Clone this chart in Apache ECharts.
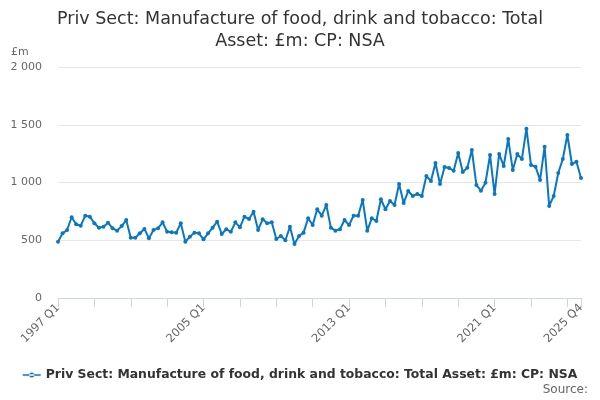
<!DOCTYPE html>
<html>
<head>
<meta charset="utf-8">
<script src="https://cdn.jsdelivr.net/npm/echarts@6/dist/echarts.min.js"></script>
<style>
  html, body { margin: 0; padding: 0; background: #fff; }
  #main { width: 600px; height: 400px; }
</style>
</head>
<body>
<div id="main"></div>
<script>
// quarters 1997 Q1 .. 2025 Q4
var years = [];
for (var y = 1997; y <= 2025; y++) years.push(y);
var quarters = ['Q1', 'Q2', 'Q3', 'Q4'];
var categories = [];
years.forEach(function (yr) {
  quarters.forEach(function (q) { categories.push(yr + ' ' + q); });
});

// £m, one row per year
var values = [
  487, 560, 589, 699,
  638, 626, 713, 704,
  647, 609, 617, 652,
  603, 583, 623, 675,
  522, 522, 560, 598,
  517, 589, 603, 655,
  574, 569, 566, 647,
  487, 531, 566, 560,
  508, 560, 609, 661,
  554, 595, 574, 655,
  612, 704, 684, 747,
  589, 681, 647, 655,
  511, 537, 500, 617,
  468, 537, 566, 690,
  632, 768, 713, 805,
  609, 583, 595, 675,
  632, 713, 713, 848,
  583, 690, 667, 855,
  768, 840, 805, 987,
  822, 926, 883, 900,
  883, 1056, 1013, 1169,
  987, 1134, 1125, 1102,
  1255, 1091, 1128, 1281,
  978, 929, 998, 1238,
  900, 1247, 1143, 1377,
  1108, 1247, 1203, 1466,
  1152, 1137, 1022, 1310,
  797, 883, 1082, 1203,
  1411, 1160, 1180, 1039
];

var yTicks = [0, 500, 1000, 1500, 2000];
var seriesName = 'Priv Sect: Manufacture of food, drink and tobacco: Total Asset: £m: CP: NSA';
var last = categories.length - 1;

var myChart = echarts.init(document.getElementById('main'));

var option = {
  animation: false,
  textStyle: { fontFamily: 'DejaVu Sans' },
  title: [{
    text: 'Priv Sect: Manufacture of food, drink and tobacco: Total\nAsset: £m: CP: NSA',
    left: 'center',
    top: 3,
    textStyle: { fontSize: 17.5, fontWeight: 'normal', color: '#333', lineHeight: 22, fontFamily: 'DejaVu Sans' }
  }, {
    text: '£m',
    left: 6,
    top: 42,
    textStyle: { fontSize: 11, fontWeight: 'normal', color: '#666', fontFamily: 'DejaVu Sans' }
  }, {
    text: 'Source:',
    right: 7,
    top: 379,
    textStyle: { fontSize: 12, fontWeight: 'normal', color: '#666', fontFamily: 'DejaVu Sans' }
  }],
  legend: {
    bottom: 14,
    left: 'center',
    itemWidth: 18,
    itemHeight: 8,
    itemGap: 5,
    textStyle: { fontSize: 12.4, fontWeight: 'bold', color: '#333', fontFamily: 'DejaVu Sans' },
    data: [{ name: seriesName, icon: 'path://M0,3.3h18v1.4h-18z M6.5,4a2.5,2.5 0 1,0 5,0a2.5,2.5 0 1,0 -5,0' }]
  },
  grid: { left: 58, right: 19, top: 67, bottom: 102, containLabel: false },
  xAxis: {
    type: 'category',
    data: categories,
    boundaryGap: false,
    axisLine: { lineStyle: { color: '#ccd6eb' } },
    axisTick: {
      length: 9,
      lineStyle: { color: '#ccd6eb' },
      interval: function (i) { return i % 8 === 0 || i === last; }
    },
    axisLabel: {
      rotate: 45,
      color: '#666',
      fontSize: 11.5,
      margin: 8,
      showMaxLabel: true,
      interval: function (i) { return i % 32 === 0 || i === last; }
    }
  },
  yAxis: {
    type: 'value',
    min: yTicks[0],
    max: yTicks[yTicks.length - 1],
    interval: 500,
    axisLine: { show: false },
    axisTick: { show: false },
    splitLine: { lineStyle: { color: '#e6e6e6' } },
    axisLabel: {
      color: '#666',
      fontSize: 11,
      margin: 16,
      formatter: function (v) { return String(v).replace(/\B(?=(\d{3})+(?!\d))/g, ' '); }
    }
  },
  series: [{
    name: seriesName,
    type: 'line',
    data: values,
    symbol: 'circle',
    symbolSize: 4,
    showAllSymbol: true,
    lineStyle: { color: '#0a77c2', width: 2 },
    itemStyle: { color: '#0a77c2' }
  }]
};

myChart.setOption(option);
</script>
</body>
</html>
